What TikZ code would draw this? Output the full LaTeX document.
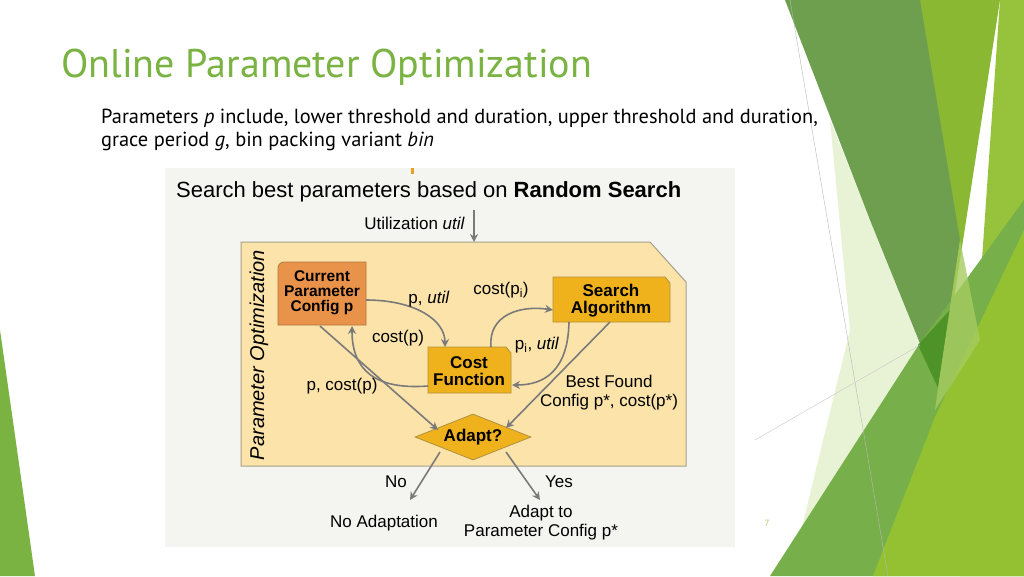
\documentclass[tikz,border=0pt]{standalone}
\usepackage{fontspec}
\setmainfont{PT Sans}
\newfontfamily\arialf{Liberation Sans}
\usetikzlibrary{shapes.geometric,arrows.meta}
\definecolor{tgreen}{HTML}{7AB342}
\definecolor{tan}{HTML}{FBE3A9}
\definecolor{org}{HTML}{E8924A}
\definecolor{gold}{HTML}{F0B21C}
\definecolor{arr}{HTML}{7A7A7A}
\definecolor{ga}{HTML}{97C23C}
\definecolor{gb}{HTML}{8AB833}
\definecolor{gc}{HTML}{D9EAB8}
\definecolor{gd}{HTML}{6E9F4E}
\definecolor{ge}{HTML}{77B04A}
\definecolor{gf}{HTML}{4E9327}
\definecolor{gg}{HTML}{94C132}
\definecolor{gh}{HTML}{A6CC60}
\definecolor{lnone}{HTML}{B8B8B8}
\definecolor{lntwo}{HTML}{C8C8C8}
\definecolor{pgc}{HTML}{B5C96A}
\definecolor{panel}{HTML}{F4F4F1}
\definecolor{orangetick}{HTML}{E8A020}
\definecolor{bbord}{HTML}{A8A08A}
\definecolor{obord}{HTML}{B07840}
\definecolor{gbord}{HTML}{B09040}
\tikzset{
 lab/.style={font=\arialf\fontsize{17}{19}\selectfont, inner sep=0pt, align=center},
 boxt/.style={font=\arialf\bfseries\fontsize{15.5}{18}\selectfont, align=center},
 con/.style={draw=arr, line width=1.6pt, -{Stealth[length=8pt,width=8pt]}},
}
\begin{document}
\begin{tikzpicture}[x=1pt,y=-1pt]
\useasboundingbox (0,0) rectangle (1024,576);
\fill[white] (0,0) rectangle (1024,576);
% background decoration
\fill[ga] (1000,0) -- (1024,0) -- (1024,576) -- (960,576) -- cycle;
\fill[gb] (920,0) -- (1000,0) -- (960,260) -- (940,390) -- cycle;
\fill[gc,opacity=0.6] (830,120) -- (937,387) -- (950,470) -- (900,576) -- (790,576) -- (850,330) -- cycle;
\fill[gd] (785,0) -- (920,0) -- (960,240) -- (938,388) -- (870,220) -- cycle;
\fill[ge] (770,576) -- (920,343) -- (1024,200) -- (1024,576) -- cycle;
\fill[gf] (918,345) -- (950,310) -- (938,388) -- cycle;
\fill[gg] (873,576) -- (935,417) -- (1024,230) -- (1024,576) -- cycle;
\fill[gh,opacity=0.8] (960,240) -- (980,340) -- (935,410) -- (938,388) -- cycle;
\draw[lnone, line width=0.4pt] (790,0) -- (888,576);
\draw[lntwo, line width=0.4pt] (755,440) -- (920,345);
\fill[tgreen] (0,330) -- (35,576) -- (0,576) -- cycle;
\node[anchor=center, text=pgc, font=\fontsize{9}{10}\selectfont] (pg) at (767,523) {7};
% titles
\node[anchor=west, text=tgreen, font=\fontsize{40}{44}\selectfont, inner sep=0pt] (title) at (61,67) {Online Parameter Optimization};
\node[anchor=west, font=\fontsize{20.4}{24}\selectfont, inner sep=0pt] (l1) at (101,118) {Parameters \textit{p} include, lower threshold and duration, upper threshold and duration,};
\node[anchor=west, font=\fontsize{20.4}{24}\selectfont, inner sep=0pt] (l2) at (101,141) {grace period \textit{g}, bin packing variant \textit{bin}};
% image panel
\fill[panel] (165,168) rectangle (735,547);
\fill[orangetick] (411,168) rectangle (414,174);
\node[anchor=west, font=\arialf\fontsize{22}{24}\selectfont, inner sep=0pt] (st) at (176,192) {Search best parameters based on \textbf{Random Search}};
\node[lab, anchor=east] (util) at (465,223) {Utilization \textit{util}};
\coordinate (utop) at (474,210);
% big box
\draw[bbord, fill=tan, line width=1pt] (241,242) -- (650,242) -- (686,282) -- (686,466) -- (241,466) -- cycle;
\coordinate (bigtop) at (474,242);
\draw[con] (utop) -- (bigtop);
\node[rotate=90, font=\arialf\itshape\fontsize{20}{22}\selectfont, inner sep=0pt] (po) at (259,355) {Parameter Optimization};
% nodes
\draw[obord, fill=org, line width=0.8pt] (278,325) [rounded corners=6pt] -- (278,262) [sharp corners] -- (366,262) -- (366,325) -- cycle;
\node[boxt] (cur) at (322,293) {Current\\[-3pt]Parameter\\[-3pt]Config p};
\draw[gbord, fill=gold, line width=0.8pt] (553,277) -- (665,277) -- (670,283) -- (670,322) -- (553,322) -- cycle;
\node[boxt, font=\arialf\bfseries\fontsize{17}{19}\selectfont] (sa) at (611,301) {Search\\[-2pt]Algorithm};
\draw[gbord, fill=gold, line width=0.8pt] (428,347) -- (506,347) -- (511,353) -- (511,393) -- (428,393) -- cycle;
\node[boxt, font=\arialf\bfseries\fontsize{17}{19}\selectfont] (cf) at (469,371) {Cost\\[-2pt]Function};
\node[diamond, draw=gbord, fill=gold, line width=0.8pt, aspect=2.6, minimum width=116pt, minimum height=46pt, inner sep=0pt, font=\arialf\bfseries\fontsize{17}{19}\selectfont] (ad) at (473,437) {Adapt?};
% anchors
\coordinate (curR) at (366,300);
\coordinate (cfT) at (445,347);
\coordinate (cfL) at (428,386);
\coordinate (curB) at (352,326);
\coordinate (cfTR) at (491,347);
\coordinate (saL) at (553,310);
\coordinate (saB) at (569,322);
\coordinate (cfR) at (512,385);
\coordinate (curB2) at (320,326);
\coordinate (saB2) at (610,322);
\coordinate (adL) at (438,430);
\coordinate (adR) at (506,428);
\coordinate (adBL) at (440,452);
\coordinate (adBR) at (506,452);
\coordinate (noE) at (410,500);
\coordinate (yesE) at (540,500);
% connectors
\draw[con] (curR) .. controls (415,300) and (445,320) .. (cfT);
\draw[con] (cfL) .. controls (375,390) and (352,370) .. (curB);
\draw[con] (cfTR) .. controls (488,315) and (520,305) .. (saL);
\draw[con] (saB) .. controls (568,370) and (545,385) .. (cfR);
\draw[con] (curB2) -- (adL);
\draw[con] (saB2) -- (adR);
\draw[con] (adBL) -- (noE);
\draw[con] (adBR) -- (yesE);
% labels
\node[lab] (l_pu) at (429,299) {p, \textit{util}};
\node[lab] (l_cp) at (398,338) {cost(p)};
\node[lab] (l_cpi) at (501,290) {cost(p\textsubscript{i})};
\node[lab] (l_piu) at (537,345) {p\textsubscript{i}, \textit{util}};
\node[lab] (l_pc) at (342,386) {p, cost(p)};
\node[lab] (l_bf) at (609,393) {Best Found\\Config p*, cost(p*)};
\node[lab] (l_no) at (396,482) {No};
\node[lab] (l_yes) at (559,482) {Yes};
\node[lab] (noa) at (384,523) {No Adaptation};
\node[lab] (yesa) at (541,523) {Adapt to\\Parameter Config p*};
\end{tikzpicture}
\end{document}
